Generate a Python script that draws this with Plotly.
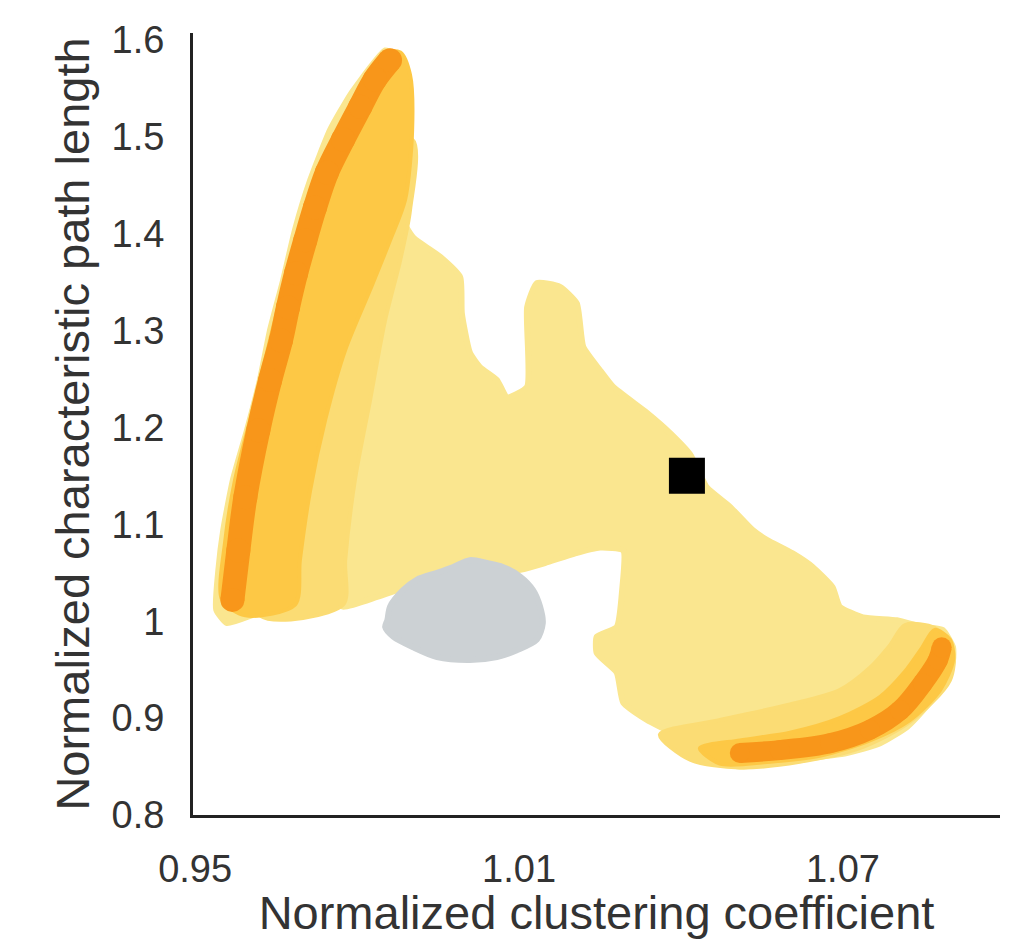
import plotly.graph_objects as go

# ---- data ----
# outer envelope of all simulated networks (light yellow cloud)
env_x = [0.9865, 0.9889, 0.9894, 0.9898, 0.9885, 0.9880, 0.9904, 0.9954, 0.9991, 0.9994,
         1.0009, 1.0028, 1.0059, 1.0078, 1.0115, 1.0115, 1.0133, 1.0176, 1.0207, 1.0219,
         1.0250, 1.0274, 1.0337, 1.0380, 1.0417, 1.0448, 1.0491, 1.0533, 1.0559, 1.0607,
         1.0644, 1.0681, 1.0694, 1.0737, 1.0800, 1.0848, 1.0885, 1.0904, 1.0904, 1.0893,
         1.0861, 1.0819, 1.0769, 1.0707, 1.0615, 1.0509, 1.0448, 1.0411, 1.0398, 1.0337,
         1.0293, 1.0281, 1.0244, 1.0244, 1.0281, 1.0291, 1.0293, 1.0250, 1.0204, 1.0148,
         1.0102, 1.0028, 0.9917, 0.9874, 0.9837, 0.9774, 0.9750, 0.9676, 0.9615, 0.9559,
         0.9539, 0.9543, 0.9552, 0.9570, 0.9596, 0.9620, 0.9639, 0.9663, 0.9685, 0.9713,
         0.9750, 0.9787, 0.9828, 0.9852]
env_y = [1.587, 1.574, 1.538, 1.497, 1.440, 1.419, 1.396, 1.376, 1.355, 1.318,
         1.277, 1.262, 1.249, 1.231, 1.242, 1.324, 1.349, 1.345, 1.328, 1.283,
         1.259, 1.242, 1.215, 1.194, 1.172, 1.138, 1.118, 1.094, 1.084, 1.070,
         1.056, 1.035, 1.015, 1.004, 1.001, 0.994, 0.991, 0.973, 0.960, 0.939,
         0.916, 0.891, 0.874, 0.864, 0.857, 0.850, 0.857, 0.867, 0.880, 0.898,
         0.916, 0.947, 0.967, 0.984, 0.994, 1.032, 1.073, 1.076, 1.070, 1.060,
         1.053, 1.047, 1.040, 1.032, 1.025, 1.015, 1.028, 1.015, 1.008, 0.998,
         1.012, 1.053, 1.094, 1.146, 1.197, 1.249, 1.301, 1.352, 1.404, 1.455,
         1.507, 1.543, 1.574, 1.589]

# intermediate tone band, left lobe
midL_x = [0.9902, 0.9898, 0.9880, 0.9852, 0.9824, 0.9796, 0.9778, 0.9774, 0.9620, 0.9583,
          0.9657, 0.9750]
midL_y = [1.497, 1.424, 1.373, 1.311, 1.228, 1.146, 1.063, 1.017, 1.006, 1.125,
          1.301, 1.476]

# deeper tone band, left lobe
deepL_x = [0.9880, 0.9898, 0.9902, 0.9889, 0.9861, 0.9824, 0.9778, 0.9741, 0.9713, 0.9694,
           0.9685, 0.9593, 0.9550, 0.9556, 0.9574, 0.9602, 0.9630, 0.9657, 0.9694, 0.9731,
           0.9778, 0.9824, 0.9852]
deepL_y = [1.587, 1.564, 1.507, 1.435, 1.393, 1.342, 1.280, 1.208, 1.135, 1.063,
           1.017, 1.006, 1.022, 1.084, 1.146, 1.208, 1.270, 1.331, 1.404, 1.466,
           1.517, 1.564, 1.587]

# intermediate tone band, right lobe
midR_x = [1.0361, 1.0472, 1.0602, 1.0694, 1.0750, 1.0787, 1.0815, 1.0870, 1.0904, 1.0898,
          1.0824, 1.0731, 1.0620, 1.0509, 1.0417]
midR_y = [0.883, 0.898, 0.914, 0.929, 0.952, 0.975, 0.996, 0.993, 0.970, 0.939,
          0.896, 0.869, 0.855, 0.849, 0.857]

# deeper tone band, right lobe
deepR_x = [1.0435, 1.0509, 1.0602, 1.0694, 1.0769, 1.0815, 1.0846, 1.0870, 1.0898, 1.0904,
           1.0880, 1.0824, 1.0750, 1.0657, 1.0565, 1.0472]
deepR_y = [0.869, 0.877, 0.885, 0.900, 0.922, 0.948, 0.972, 0.991, 0.981, 0.960,
           0.929, 0.898, 0.877, 0.861, 0.855, 0.853]

# extreme (orange) ridges
ridgeL_x = [0.9861, 0.9833, 0.9806, 0.9774, 0.9744, 0.9722, 0.9704, 0.9687, 0.9672, 0.9659,
            0.9639, 0.9617, 0.9593, 0.9580, 0.9569]
ridgeL_y = [1.579, 1.559, 1.531, 1.497, 1.463, 1.427, 1.393, 1.359, 1.324, 1.290,
            1.249, 1.197, 1.128, 1.073, 1.022]
ridgeR_x = [1.0509, 1.0583, 1.0676, 1.0750, 1.0806, 1.0848, 1.0876, 1.0883]
ridgeR_y = [0.864, 0.867, 0.874, 0.888, 0.908, 0.936, 0.960, 0.973]

# random networks (grey cloud)
rand_x = [0.9856, 0.9861, 0.9885, 0.9911, 0.9948, 0.9978, 1.0009, 1.0041, 1.0070, 1.0102,
          1.0126, 1.0139, 1.0144, 1.0133, 1.0096, 1.0059, 1.0009, 0.9948, 0.9904, 0.9867,
          0.9852]
rand_y = [1.001, 1.015, 1.032, 1.043, 1.050, 1.056, 1.063, 1.060, 1.056, 1.046,
          1.032, 1.015, 0.998, 0.981, 0.970, 0.963, 0.960, 0.963, 0.973, 0.984,
          0.994]

# empirical network (black square)
emp_x = [1.0411]
emp_y = [1.150]

x_ticks = [0.95, 1.01, 1.07]
x_tick_text = ["0.95", "1.01", "1.07"]
y_ticks = [0.8, 0.9, 1.0, 1.1, 1.2, 1.3, 1.4, 1.5, 1.6]
y_tick_text = ["0.8", "0.9", "1", "1.1", "1.2", "1.3", "1.4", "1.5", "1.6"]

# ---- styling ----
LIGHT = "#FAE68F"
MID = "#FBDC74"
DEEP = "#FDC845"
ORANGE = "#F8961A"
GREY = "#CCD1D4"

fig = go.Figure()


def blob(xs, ys, color, w=5, smooth=0.5):
    fig.add_trace(go.Scatter(x=xs + xs[:1], y=ys + ys[:1], mode="lines", fill="toself",
                             fillcolor=color,
                             line=dict(color=color, width=w, shape="spline", smoothing=smooth),
                             hoverinfo="skip", showlegend=False))


blob(env_x, env_y, LIGHT, 6, 0.5)
blob(midL_x, midL_y, MID, 4, 0.8)
blob(deepL_x, deepL_y, DEEP, 4, 0.8)
blob(midR_x, midR_y, MID, 4, 0.8)
blob(deepR_x, deepR_y, DEEP, 4, 0.8)

for rx, ry, w in [(ridgeL_x, ridgeL_y, 24), (ridgeR_x, ridgeR_y, 20)]:
    fig.add_trace(go.Scatter(x=rx, y=ry, mode="lines+markers",
                             line=dict(color=ORANGE, width=w, shape="spline"),
                             marker=dict(color=ORANGE, size=w),
                             hoverinfo="skip", showlegend=False))

blob(rand_x, rand_y, GREY, 6, 0.8)

fig.add_trace(go.Scatter(x=emp_x, y=emp_y, mode="markers",
                         marker=dict(symbol="square", size=36, color="black"),
                         showlegend=False))

font_family = "Liberation Sans, Arial, sans-serif"
fig.update_layout(
    width=1020, height=939,
    margin=dict(l=193, r=20, t=33, b=124),
    plot_bgcolor="white", paper_bgcolor="white",
    font=dict(family=font_family, color="#333333"),
    xaxis=dict(range=[0.9496, 1.0991], tickvals=x_ticks, ticktext=x_tick_text,
               showgrid=False, zeroline=False, showline=True, linecolor="#222222",
               linewidth=3, ticks="", tickfont=dict(size=38, color="#333333"),
               ticklabelstandoff=18,
               title=dict(text="Normalized clustering coefficient",
                          font=dict(size=47, color="#333333"), standoff=6)),
    yaxis=dict(range=[0.8, 1.607], tickvals=y_ticks, ticktext=y_tick_text,
               showgrid=False, zeroline=False, showline=True, linecolor="#222222",
               linewidth=3, ticks="", tickfont=dict(size=38, color="#333333"),
               ticklabelstandoff=18,
               title=dict(text="Normalized characteristic path length",
                          font=dict(size=47, color="#333333"), standoff=8)),
)

fig.write_html("out.html")
